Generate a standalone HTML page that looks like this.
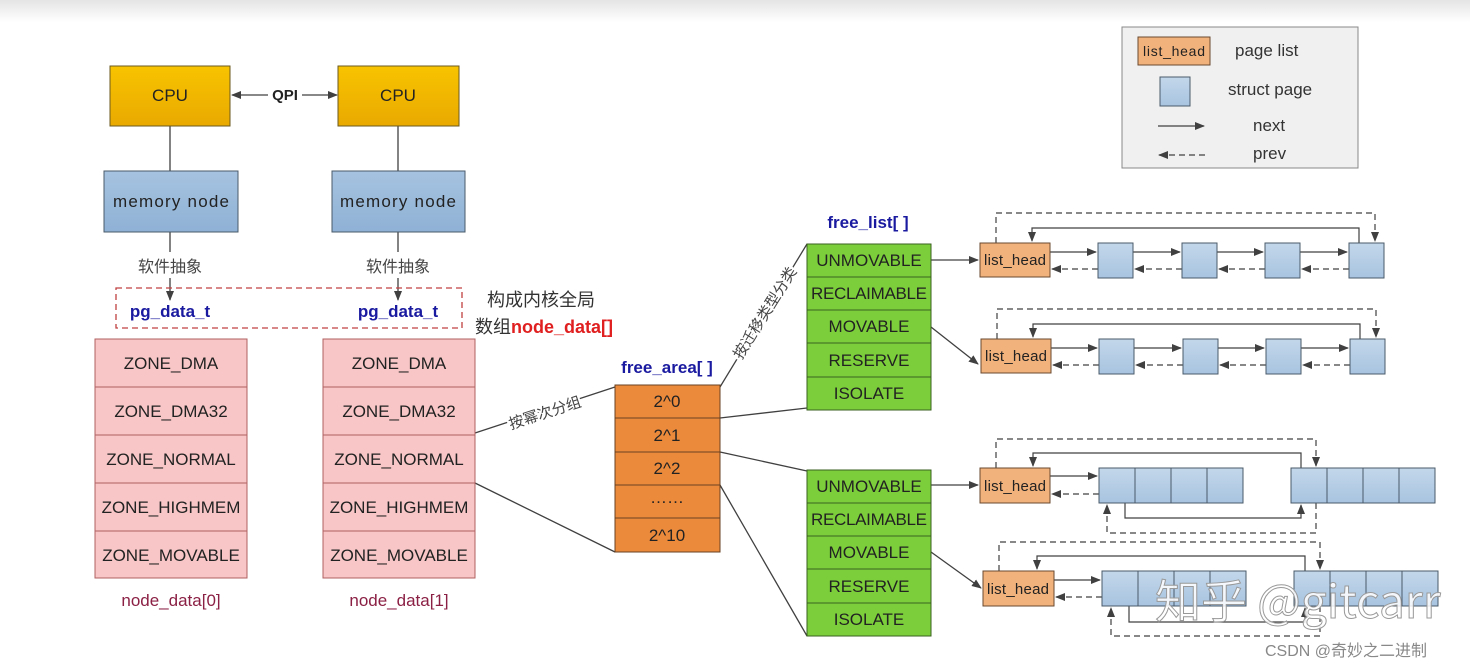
<!DOCTYPE html>
<html><head><meta charset="utf-8"><style>
html,body{margin:0;padding:0;background:#fff;}
svg{display:block;font-family:"Liberation Sans","Noto Sans CJK SC",sans-serif;}
</style></head><body>
<svg width="1470" height="669" viewBox="0 0 1470 669" xmlns="http://www.w3.org/2000/svg">
<defs>
<linearGradient id="top" x1="0" y1="0" x2="0" y2="1"><stop offset="0" stop-color="#e4e4e4"/><stop offset="1" stop-color="#fff"/></linearGradient>
<linearGradient id="cpu" x1="0" y1="0" x2="0" y2="1"><stop offset="0" stop-color="#f8c400"/><stop offset="1" stop-color="#e9a900"/></linearGradient>
<linearGradient id="mem" x1="0" y1="0" x2="0" y2="1"><stop offset="0" stop-color="#a6c3e0"/><stop offset="1" stop-color="#8fb1d5"/></linearGradient>
<linearGradient id="pg" x1="0" y1="0" x2="0" y2="1"><stop offset="0" stop-color="#c3d7ea"/><stop offset="1" stop-color="#a8c4e0"/></linearGradient>
<marker id="a" markerWidth="10" markerHeight="8" refX="9" refY="4" orient="auto" markerUnits="userSpaceOnUse"><path d="M0,0 L10,4 L0,8 Z" fill="#404040"/></marker>
</defs>
<rect x="0" y="0" width="1470" height="22" fill="url(#top)"/>
<g stroke="#404040" stroke-width="1.3" fill="none">
<line x1="170" y1="126" x2="170" y2="171"/><line x1="398" y1="126" x2="398" y2="171"/>
<line x1="170" y1="232" x2="170" y2="252"/><line x1="398" y1="232" x2="398" y2="252"/>
<line x1="170" y1="278" x2="170" y2="300" marker-end="url(#a)"/><line x1="398" y1="278" x2="398" y2="300" marker-end="url(#a)"/>
<line x1="268" y1="95" x2="232" y2="95" marker-end="url(#a)"/><line x1="302" y1="95" x2="337" y2="95" marker-end="url(#a)"/>
<line x1="475" y1="433" x2="615" y2="387"/><line x1="475" y1="483" x2="615" y2="552"/>
<line x1="720" y1="387" x2="807" y2="244"/><line x1="720" y1="418" x2="807" y2="408"/>
<line x1="720" y1="452" x2="807" y2="471"/><line x1="720" y1="485" x2="807" y2="636"/>
<line x1="931" y1="260" x2="978" y2="260" marker-end="url(#a)"/>
<line x1="931" y1="327" x2="978" y2="364" marker-end="url(#a)"/>
<line x1="931" y1="485" x2="978" y2="485" marker-end="url(#a)"/>
<line x1="931" y1="552" x2="981" y2="588" marker-end="url(#a)"/>
</g>
<rect x="110" y="66" width="120" height="60" fill="url(#cpu)" stroke="#6b5a20"/>
<rect x="338" y="66" width="121" height="60" fill="url(#cpu)" stroke="#6b5a20"/>
<text x="170" y="101" font-size="17" text-anchor="middle" fill="#222">CPU</text>
<text x="398" y="101" font-size="17" text-anchor="middle" fill="#222">CPU</text>
<text x="285" y="100" font-size="15" font-weight="bold" text-anchor="middle" fill="#222">QPI</text>
<rect x="104" y="171" width="134" height="61" fill="url(#mem)" stroke="#4a5a6a"/>
<rect x="332" y="171" width="133" height="61" fill="url(#mem)" stroke="#4a5a6a"/>
<text x="171" y="207" font-size="17" text-anchor="middle" fill="#222" textLength="116">memory node</text>
<text x="398" y="207" font-size="17" text-anchor="middle" fill="#222" textLength="116">memory node</text>
<text x="170" y="272" font-size="16" text-anchor="middle" fill="#444">软件抽象</text>
<text x="398" y="272" font-size="16" text-anchor="middle" fill="#444">软件抽象</text>
<rect x="116" y="288" width="346" height="40" fill="none" stroke="#c04040" stroke-width="1.3" stroke-dasharray="6,4"/>
<text x="170" y="317" font-size="17" font-weight="bold" text-anchor="middle" fill="#1a1aa0">pg_data_t</text>
<text x="398" y="317" font-size="17" font-weight="bold" text-anchor="middle" fill="#1a1aa0">pg_data_t</text>
<text x="487" y="306" font-size="18" fill="#333">构成内核全局</text>
<text x="475" y="333" font-size="18" fill="#333">数组<tspan fill="#e02020" font-weight="bold">node_data[]</tspan></text>
<g font-size="17" text-anchor="middle" fill="#222">
<g stroke="#b06060" fill="#f8c6c6">
<rect x="95" y="339" width="152" height="48"/><rect x="95" y="387" width="152" height="48"/><rect x="95" y="435" width="152" height="48"/><rect x="95" y="483" width="152" height="48"/><rect x="95" y="531" width="152" height="47"/>
<rect x="323" y="339" width="152" height="48"/><rect x="323" y="387" width="152" height="48"/><rect x="323" y="435" width="152" height="48"/><rect x="323" y="483" width="152" height="48"/><rect x="323" y="531" width="152" height="47"/>
</g>
<text x="171" y="369">ZONE_DMA</text><text x="171" y="417">ZONE_DMA32</text><text x="171" y="465">ZONE_NORMAL</text><text x="171" y="513">ZONE_HIGHMEM</text><text x="171" y="561">ZONE_MOVABLE</text>
<text x="399" y="369">ZONE_DMA</text><text x="399" y="417">ZONE_DMA32</text><text x="399" y="465">ZONE_NORMAL</text><text x="399" y="513">ZONE_HIGHMEM</text><text x="399" y="561">ZONE_MOVABLE</text>
<text x="171" y="606" fill="#8b2045">node_data[0]</text><text x="399" y="606" fill="#8b2045">node_data[1]</text>
</g>
<text x="545" y="418" font-size="15" fill="#444" text-anchor="middle" transform="rotate(-18 545 413)" stroke="#fff" stroke-width="4" paint-order="stroke">按幂次分组</text>
<text x="765" y="318" font-size="15" fill="#444" text-anchor="middle" transform="rotate(-58 765 313)" stroke="#fff" stroke-width="4" paint-order="stroke">按迁移类型分类</text>
<text x="667" y="373" font-size="17" font-weight="bold" text-anchor="middle" fill="#1a1aa0">free_area[ ]</text>
<g stroke="#6a4020" fill="#ec8a3c">
<rect x="615" y="385" width="105" height="33"/><rect x="615" y="418" width="105" height="34"/><rect x="615" y="452" width="105" height="33"/><rect x="615" y="485" width="105" height="33"/><rect x="615" y="518" width="105" height="34"/>
</g>
<g font-size="17" text-anchor="middle" fill="#222">
<text x="667" y="407">2^0</text><text x="667" y="441">2^1</text><text x="667" y="474">2^2</text><text x="667" y="503">……</text><text x="667" y="541">2^10</text>
</g>
<text x="868" y="228" font-size="17" font-weight="bold" text-anchor="middle" fill="#1a1aa0">free_list[ ]</text>
<g stroke="#3a6020" fill="#7ccf3a">
<rect x="807" y="244" width="124" height="33"/><rect x="807" y="277" width="124" height="33"/><rect x="807" y="310" width="124" height="33"/><rect x="807" y="343" width="124" height="34"/><rect x="807" y="377" width="124" height="33"/>
<rect x="807" y="470" width="124" height="33"/><rect x="807" y="503" width="124" height="33"/><rect x="807" y="536" width="124" height="33"/><rect x="807" y="569" width="124" height="34"/><rect x="807" y="603" width="124" height="33"/>
</g>
<g font-size="17" text-anchor="middle" fill="#222">
<text x="869" y="266">UNMOVABLE</text><text x="869" y="299" textLength="116">RECLAIMABLE</text><text x="869" y="332">MOVABLE</text><text x="869" y="366">RESERVE</text><text x="869" y="399">ISOLATE</text>
<text x="869" y="492">UNMOVABLE</text><text x="869" y="525" textLength="116">RECLAIMABLE</text><text x="869" y="558">MOVABLE</text><text x="869" y="592">RESERVE</text><text x="869" y="625">ISOLATE</text>
</g>
<g id="row1">
<g stroke="#404040" stroke-width="1.2" fill="none">
<path d="M996,243 V213 H1375 V241" stroke-dasharray="6,4" marker-end="url(#a)"/>
<path d="M1359,243 V228 H1032 V241" marker-end="url(#a)"/>
<line x1="1050" y1="252" x2="1096" y2="252" marker-end="url(#a)"/><line x1="1133" y1="252" x2="1180" y2="252" marker-end="url(#a)"/><line x1="1217" y1="252" x2="1263" y2="252" marker-end="url(#a)"/><line x1="1300" y1="252" x2="1347" y2="252" marker-end="url(#a)"/>
<g stroke-dasharray="6,4"><line x1="1098" y1="269" x2="1052" y2="269" marker-end="url(#a)"/><line x1="1182" y1="269" x2="1135" y2="269" marker-end="url(#a)"/><line x1="1265" y1="269" x2="1219" y2="269" marker-end="url(#a)"/><line x1="1349" y1="269" x2="1302" y2="269" marker-end="url(#a)"/></g>
</g>
<rect x="980" y="243" width="70" height="34" fill="#f2b27c" stroke="#6a4a30"/>
<text x="1015" y="265" font-size="15" text-anchor="middle" fill="#222" textLength="62">list_head</text>
<g fill="url(#pg)" stroke="#4a5a6a"><rect x="1098" y="243" width="35" height="35"/><rect x="1182" y="243" width="35" height="35"/><rect x="1265" y="243" width="35" height="35"/><rect x="1349" y="243" width="35" height="35"/></g>
</g>
<use href="#row1" transform="translate(1,96)"/>
<g stroke="#404040" stroke-width="1.2" fill="none">
<path d="M996,468 V439 H1316 V466" stroke-dasharray="6,4" marker-end="url(#a)"/>
<path d="M1301,468 V453 H1033 V466" marker-end="url(#a)"/>
<line x1="1050" y1="476" x2="1097" y2="476" marker-end="url(#a)"/>
<line x1="1099" y1="494" x2="1052" y2="494" stroke-dasharray="6,4" marker-end="url(#a)"/>
<path d="M1125,503 V518 H1301 V505" marker-end="url(#a)"/>
<path d="M1316,503 V533 H1107 V505" stroke-dasharray="6,4" marker-end="url(#a)"/>
<path d="M999,571 V542 H1320 V569" stroke-dasharray="6,4" marker-end="url(#a)"/>
<path d="M1305,571 V556 H1037 V569" marker-end="url(#a)"/>
<line x1="1054" y1="580" x2="1100" y2="580" marker-end="url(#a)"/>
<line x1="1102" y1="597" x2="1056" y2="597" stroke-dasharray="6,4" marker-end="url(#a)"/>
<path d="M1129,606 V622 H1305 V608" marker-end="url(#a)"/>
<path d="M1320,606 V636 H1111 V608" stroke-dasharray="6,4" marker-end="url(#a)"/>
</g>
<rect x="980" y="468" width="70" height="35" fill="#f2b27c" stroke="#6a4a30"/>
<text x="1015" y="491" font-size="15" text-anchor="middle" fill="#222" textLength="62">list_head</text>
<rect x="983" y="571" width="71" height="35" fill="#f2b27c" stroke="#6a4a30"/>
<text x="1018" y="594" font-size="15" text-anchor="middle" fill="#222" textLength="62">list_head</text>
<g fill="url(#pg)" stroke="#4a5a6a">
<rect x="1099" y="468" width="36" height="35"/><rect x="1135" y="468" width="36" height="35"/><rect x="1171" y="468" width="36" height="35"/><rect x="1207" y="468" width="36" height="35"/>
<rect x="1291" y="468" width="36" height="35"/><rect x="1327" y="468" width="36" height="35"/><rect x="1363" y="468" width="36" height="35"/><rect x="1399" y="468" width="36" height="35"/>
<rect x="1102" y="571" width="36" height="35"/><rect x="1138" y="571" width="36" height="35"/><rect x="1174" y="571" width="36" height="35"/><rect x="1210" y="571" width="36" height="35"/>
<rect x="1294" y="571" width="36" height="35"/><rect x="1330" y="571" width="36" height="35"/><rect x="1366" y="571" width="36" height="35"/><rect x="1402" y="571" width="36" height="35"/>
</g>
<rect x="1122" y="27" width="236" height="141" fill="#f0f0f0" stroke="#888"/>
<rect x="1138" y="37" width="72" height="28" fill="#f2b27c" stroke="#6a4a30"/>
<text x="1174" y="56" font-size="14" text-anchor="middle" fill="#222" textLength="62">list_head</text>
<text x="1235" y="56" font-size="17" fill="#333">page list</text>
<rect x="1160" y="77" width="30" height="29" fill="url(#pg)" stroke="#4a5a6a"/>
<text x="1228" y="95" font-size="17" fill="#333">struct page</text>
<line x1="1158" y1="126" x2="1204" y2="126" stroke="#404040" stroke-width="1.2" marker-end="url(#a)"/>
<text x="1253" y="131" font-size="17" fill="#333">next</text>
<line x1="1205" y1="155" x2="1159" y2="155" stroke="#404040" stroke-width="1.2" stroke-dasharray="6,4" marker-end="url(#a)"/>
<text x="1253" y="159" font-size="17" fill="#333">prev</text>
<text x="1155" y="618" font-size="46" fill="#fff" fill-opacity="0.85" stroke="#999" stroke-width="1" font-family="'Noto Sans CJK SC','Liberation Sans',sans-serif">知乎 @gitcarr</text>
<text x="1265" y="656" font-size="16" fill="#888">CSDN @奇妙之二进制</text>
</svg>
</body></html>
